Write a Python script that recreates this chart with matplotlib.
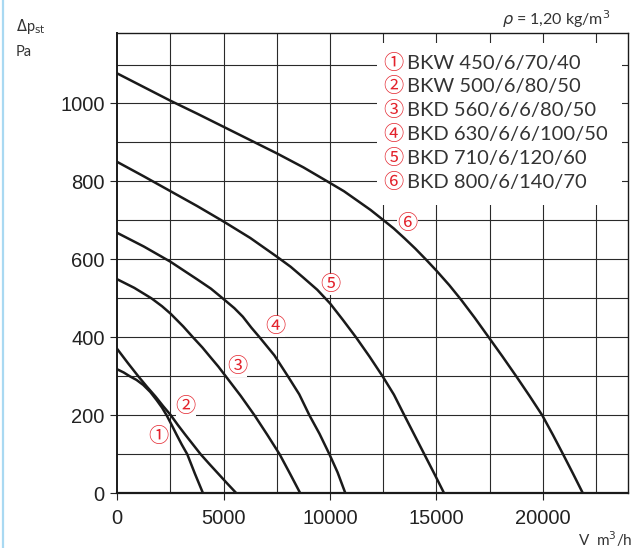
import matplotlib
matplotlib.use('Agg')
import matplotlib.pyplot as plt
from matplotlib.patches import Rectangle
from matplotlib.lines import Line2D

# ---- data ----
c1_x = [0, 300, 595, 900, 1220, 1550, 1850, 2100, 2320, 2550, 2790, 3030, 3290, 3650, 4030]
c1_y = [318, 310, 300, 291, 278, 260, 239, 220, 200, 176, 150, 125, 100, 50, 0]
c2_x = [0, 500, 990, 1400, 1800, 2150, 2520, 2850, 3200, 3560, 3920, 4330, 4750, 5170, 5600]
c2_y = [370, 334, 300, 273, 248, 224, 200, 175, 150, 125, 100, 75, 50, 25, 0]
c3_x = [0, 800, 1610, 2100, 2500, 3100, 3560, 4000, 4350, 4750, 5100, 5800, 6450, 7050, 7630, 8120, 8600]
c3_y = [549, 527, 500, 480, 461, 428, 400, 374, 351, 325, 300, 250, 200, 150, 100, 50, 0]
c4_x = [0, 1250, 2500, 3750, 4400, 5000, 5500, 5900, 6300, 6690, 7380, 8020, 8550, 9030, 9500, 9970, 10350, 10720]
c4_y = [668, 633, 594, 549, 525, 498, 475, 453, 425, 400, 354, 300, 254, 200, 153, 100, 54, 0]
c5_x = [0, 1250, 2500, 3750, 5000, 6250, 7500, 8150, 8750, 9400, 10000, 10600, 11220, 11850, 12470, 13000, 13490,
        13960, 14430, 14900, 15360]
c5_y = [850, 813, 775, 737, 697, 655, 607, 581, 553, 522, 487, 445, 400, 351, 300, 253, 200, 150, 100, 50, 0]
c6_x = [0, 1250, 2500, 3750, 5000, 6250, 7500, 8750, 10000, 10650, 11250, 11900, 12500, 13000, 13500, 14000,
        14500, 15000, 15600, 16150, 16800, 17470, 18100, 18750, 19370, 19970, 20470, 20950, 21420, 21880]
c6_y = [1077, 1042, 1007, 974, 940, 906, 872, 836, 796, 775, 752, 727, 701, 679, 654, 628, 600, 571, 534, 497,
        450, 399, 351, 300, 250, 200, 150, 100, 50, 0]
curves = [(c1_x, c1_y), (c2_x, c2_y), (c3_x, c3_y), (c4_x, c4_y), (c5_x, c5_y), (c6_x, c6_y)]

marks = ['\u2460', '\u2461', '\u2462', '\u2463', '\u2464', '\u2465']
names = ['BKW 450/6/70/40', 'BKW 500/6/80/50', 'BKD 560/6/6/80/50',
         'BKD 630/6/6/100/50', 'BKD 710/6/120/60', 'BKD 800/6/140/70']
mark_x = [1920, 3220, 5625, 7425, 10020, 13640]
mark_y = [145, 222, 325, 427, 536, 692]
legend_y = [1103, 1043, 983, 921, 859, 798]

x_ticks = [0, 5000, 10000, 15000, 20000]
y_ticks = [0, 200, 400, 600, 800, 1000]

RED = '#e3232c'
TXT = '#333333'
CIRC = ['Noto Sans CJK JP', 'DejaVu Sans']

fig = plt.figure(figsize=(6.35, 5.48), dpi=100)
ax = fig.add_axes([0.1847, 0.0998, 0.8043, 0.8394])
ax.set_xlim(0, 24000)
ax.set_ylim(0, 1180)

# grid
for gx in range(2500, 24000, 2500):
    ax.axvline(gx, color='#2a2a2a', lw=0.8, zorder=1)
for gy in range(100, 1180, 100):
    ax.axhline(gy, color='#2a2a2a', lw=0.8, zorder=1)

# white panel behind the legend text
ax.add_patch(Rectangle((12190, 739), 23694 - 12190, 1155 - 739,
                       facecolor='white', edgecolor='none', zorder=2))

for (xs, ys) in curves:
    ax.plot(xs, ys, color='#1a1a1a', lw=1.8, zorder=4, solid_joinstyle='round')

# curve numbers: white patch hides the grid but not the curves
for m, x, y in zip(marks, mark_x, mark_y):
    ax.text(x, y, m, color=RED, fontsize=14.5, family=CIRC, ha='center', va='center',
            zorder=3, bbox=dict(boxstyle='square,pad=0.0', fc='white', ec='none'))

for m, n, y in zip(marks, names, legend_y):
    ax.text(12950, y, m, color=RED, fontsize=14.5, family=CIRC, ha='center', va='center', zorder=5)
    ax.text(13600, y, n, color=TXT, fontsize=14.5, family='Lato', ha='left', va='center', zorder=5)

ax.set_xticks(x_ticks)
ax.set_yticks(y_ticks)
ax.set_xticklabels([str(v) for v in x_ticks], family='Liberation Sans', fontsize=14.5, color='#222222')
ax.set_yticklabels([str(v) for v in y_ticks], family='Liberation Sans', fontsize=14.5, color='#222222')
ax.tick_params(direction='out', length=5, width=0.8, color='#222222', pad=4)
ax.tick_params(axis='x', pad=6)
for s in ax.spines.values():
    s.set_color('#1a1a1a')
    s.set_linewidth(1.0)
ax.spines['bottom'].set_linewidth(1.6)
ax.spines['left'].set_linewidth(1.4)

fig.text(0.025, 0.952, r'$\Delta$p$_{\rm st}$', fontsize=10.5, family='Lato', color=TXT, va='center')
fig.text(0.025, 0.905, 'Pa', fontsize=10.5, family='Lato', color=TXT, va='center')
fig.text(0.961, 0.965, r'$\rho$ = 1,20 kg/m$^3$', fontsize=11.5, family='Lato', color=TXT,
         ha='right', va='center')
fig.text(0.997, 0.016, r'V  m$^3$/h', fontsize=11, family='Lato', color=TXT, ha='right', va='center')

fig.add_artist(Line2D([0.0055, 0.0055], [0, 1], color='#a9d9f2', lw=1.6, transform=fig.transFigure))

fig.savefig('out.png', dpi=100)
